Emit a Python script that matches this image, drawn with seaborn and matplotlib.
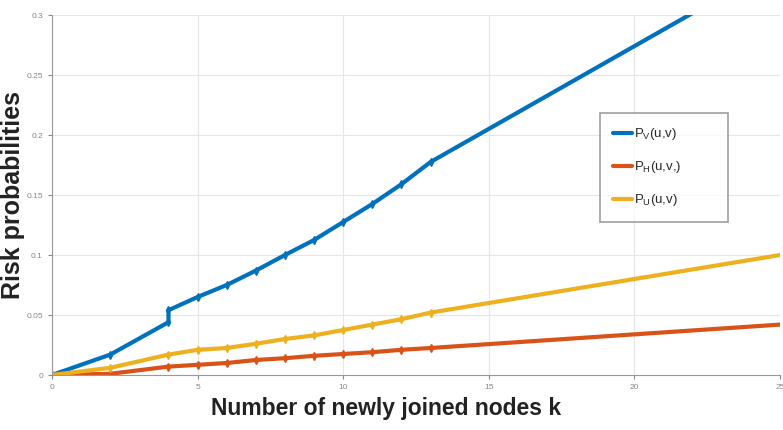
import numpy as np
import pandas as pd
import matplotlib
matplotlib.use("Agg")
import matplotlib.pyplot as plt
import seaborn as sns

# values
k_v = [0, 2, 4, 4, 5, 6, 7, 8, 9, 10, 11, 12, 13, 25]
p_v = [0, 0.017, 0.044, 0.054, 0.065, 0.075, 0.087, 0.1, 0.1125, 0.1275, 0.1425, 0.159, 0.1775, 0.343]
k_h = [0, 2, 4, 5, 6, 7, 8, 9, 10, 11, 12, 13, 25]
p_h = [0, 0.001, 0.007, 0.0085, 0.01, 0.0125, 0.014, 0.016, 0.0175, 0.019, 0.021, 0.0225, 0.042]
k_u = [0, 2, 4, 5, 6, 7, 8, 9, 10, 11, 12, 13, 25]
p_u = [0, 0.006, 0.017, 0.021, 0.0225, 0.026, 0.03, 0.033, 0.0375, 0.042, 0.0465, 0.052, 0.1]
labels = [r"P$_V$(u,v)", r"P$_H$(u,v,)", r"P$_U$(u,v)"]
colors = ["#0072BD", "#D95319", "#EDB120"]

sns.set_style("whitegrid")
plt.rcParams["font.family"] = ["Liberation Sans", "DejaVu Sans"]
plt.rcParams["mathtext.fontset"] = "custom"
plt.rcParams["mathtext.rm"] = "Liberation Sans"
plt.rcParams["mathtext.it"] = "Liberation Sans"

fig = plt.figure(figsize=(7.83, 4.30), dpi=100)
ax = fig.add_axes([52 / 783, 55 / 430, 728 / 783, 360 / 430])

for k, p, lab, c in zip([k_v, k_h, k_u], [p_v, p_h, p_u], labels, colors):
    df = pd.DataFrame({"k": k, "p": p})
    sns.lineplot(data=df, x="k", y="p", sort=False, estimator=None, ax=ax,
                 color=c, lw=3, label=lab)
    # markers only on the measured points, not the far end
    ax.plot(df["k"][:-1], df["p"][:-1], ls="none", marker="d", ms=4, color=c, mec=c)

ax.set_xlim(0, 25)
ax.set_ylim(0, 0.3)
ax.set_xticks([0, 5, 10, 15, 20, 25])
ax.set_yticks([0, 0.05, 0.1, 0.15, 0.2, 0.25, 0.3])
ax.set_yticklabels(["0", "0.05", "0.1", "0.15", "0.2", "0.25", "0.3"])
ax.tick_params(labelsize=6, colors="#888888", length=3, left=True, bottom=True)
ax.grid(color="#e6e6e6", lw=0.8)
for s in ["top", "right"]:
    ax.spines[s].set_visible(False)
for s in ["left", "bottom"]:
    ax.spines[s].set_color("#999999")
    ax.spines[s].set_linewidth(0.8)

ax.set_xlabel("Number of newly joined nodes k", fontsize=16.5, fontweight="bold", color="#222222")
ax.xaxis.set_label_coords(0.459, -0.062)
ax.set_ylabel("Risk probabilities", fontsize=18, fontweight="bold", color="#222222")
ax.yaxis.set_label_coords(-0.037, 0.5)

leg = fig.legend(*ax.get_legend_handles_labels(), loc="upper left",
                 bbox_to_anchor=(600 / 783, 1 - 212 / 430, 128 / 783, 99 / 430),
                 mode="expand", fontsize=9.5, frameon=True, fancybox=False,
                 handlelength=1.4, handletextpad=0.2, borderpad=1.0, labelspacing=1.3,
                 borderaxespad=0)
ax.get_legend().remove()
leg.get_frame().set_edgecolor("#888888")
leg.get_frame().set_linewidth(1.2)

fig.savefig("out.png", dpi=100)
